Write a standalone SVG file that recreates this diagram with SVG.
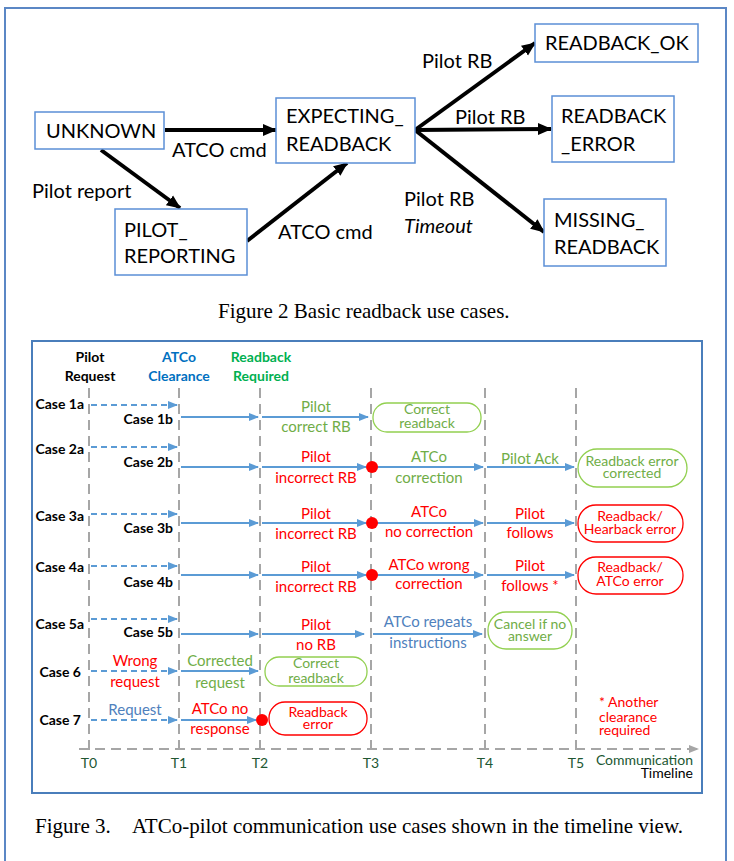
<svg xmlns="http://www.w3.org/2000/svg" width="734" height="861" viewBox="0 0 734 861">
<style>
.box{fill:#fff;stroke:#5b8fd6;stroke-width:1.5}
.bt{font-family:Lato,"Liberation Sans",sans-serif;font-size:20px;fill:#000}
.blk{stroke:#000;stroke-width:4;fill:none}
.cap{font-family:"Liberation Serif",serif;font-size:21px;fill:#000}
.t{font-family:Lato,"Liberation Sans",sans-serif;font-size:15px;text-anchor:middle}
.p{font-family:Lato,"Liberation Sans",sans-serif;font-size:14px;text-anchor:middle}
.b{font-family:Lato,"Liberation Sans",sans-serif;font-size:14px;font-weight:bold;fill:#000}
.r{fill:#ff0000}.g{fill:#70ad47}.bl{fill:#4f81bd}
.vl{stroke:#a6a6a6;stroke-width:2;stroke-dasharray:10 6;fill:none}
.sa{stroke:#5b9bd5;stroke-width:2;fill:none;marker-end:url(#ba)}
.da{stroke:#5b9bd5;stroke-width:2;fill:none;stroke-dasharray:6 4;marker-end:url(#ba)}
.pg{fill:#fff;stroke:#92d050;stroke-width:1.3}
.pr{fill:#fff;stroke:#ff0000;stroke-width:1.3}
.tl{font-family:Lato,"Liberation Sans",sans-serif;font-size:14px;fill:#215732;text-anchor:middle}
</style>
<defs>
<marker id="ka" markerUnits="userSpaceOnUse" markerWidth="14" markerHeight="14" refX="13" refY="7" orient="auto"><path d="M0,1 L14,7 L0,13 Z" fill="#000"/></marker>
<marker id="ba" markerUnits="userSpaceOnUse" markerWidth="10" markerHeight="10" refX="9" refY="5" orient="auto"><path d="M0,1 L10,5 L0,9 Z" fill="#5b9bd5"/></marker>
<marker id="ga" markerUnits="userSpaceOnUse" markerWidth="10" markerHeight="10" refX="9" refY="5" orient="auto"><path d="M0,1 L10,5 L0,9 Z" fill="#a6a6a6"/></marker>
</defs>
<rect x="5" y="8" width="721" height="860" fill="none" stroke="#5b87c5" stroke-width="2"/>

<!-- Figure 2 -->
<g id="connectors-fig2">
<line class="blk" x1="165" y1="130" x2="276" y2="130" marker-end="url(#ka)"/>
<line class="blk" x1="101" y1="150" x2="180" y2="208" marker-end="url(#ka)"/>
<line class="blk" x1="247" y1="241" x2="347" y2="163" marker-end="url(#ka)"/>
<line class="blk" x1="415" y1="130" x2="535" y2="43" marker-end="url(#ka)"/>
<line class="blk" x1="415" y1="130" x2="551" y2="129" marker-end="url(#ka)"/>
<line class="blk" x1="415" y1="130" x2="544" y2="232" marker-end="url(#ka)"/>
<text class="bt" x="172" y="157">ATCO cmd</text>
<text class="bt" x="32" y="198">Pilot report</text>
<text class="bt" x="278" y="239">ATCO cmd</text>
<text class="bt" x="422" y="68">Pilot RB</text>
<text class="bt" x="455" y="124">Pilot RB</text>
<text class="bt" x="404" y="206">Pilot RB</text>
<text class="bt" x="404" y="233" font-style="italic">Timeout</text>
</g>
<g id="unknown"><rect class="box" x="35" y="112" width="129" height="37"/><text class="bt" x="46" y="138">UNKNOWN</text></g>
<g id="expecting"><rect class="box" x="276" y="98" width="139" height="65"/><text class="bt" x="286" y="123">EXPECTING_</text><text class="bt" x="286" y="151">READBACK</text></g>
<g id="pilot-reporting"><rect class="box" x="115" y="209" width="132" height="66"/><text class="bt" x="124" y="237">PILOT_</text><text class="bt" x="124" y="263">REPORTING</text></g>
<g id="readback-ok"><rect class="box" x="535" y="24" width="163" height="38"/><text class="bt" x="545" y="50">READBACK_OK</text></g>
<g id="readback-error"><rect class="box" x="552" y="96" width="122" height="66"/><text class="bt" x="561" y="123">READBACK</text><text class="bt" x="561" y="151">_ERROR</text></g>
<g id="missing-readback"><rect class="box" x="544" y="199" width="122" height="67"/><text class="bt" x="554" y="227">MISSING_</text><text class="bt" x="554" y="254">READBACK</text></g>
<text class="cap" x="218" y="318">Figure 2 Basic readback use cases.</text>

<!-- Figure 3 -->
<rect x="32" y="341" width="670" height="452" fill="none" stroke="#4a7ebb" stroke-width="2"/>
<g id="timeline">
<line class="vl" x1="89" y1="388" x2="89" y2="755"/>
<line class="vl" x1="179" y1="388" x2="179" y2="755"/>
<line class="vl" x1="260" y1="388" x2="260" y2="755"/>
<line class="vl" x1="371" y1="388" x2="371" y2="755"/>
<line class="vl" x1="485" y1="388" x2="485" y2="755"/>
<line class="vl" x1="576" y1="388" x2="576" y2="755"/>
<line class="vl" x1="79" y1="749" x2="698" y2="749" marker-end="url(#ga)"/>
<text class="tl" x="89" y="768">T0</text>
<text class="tl" x="179" y="768">T1</text>
<text class="tl" x="260" y="768">T2</text>
<text class="tl" x="371" y="768">T3</text>
<text class="tl" x="485" y="768">T4</text>
<text class="tl" x="576" y="768">T5</text>
<text class="tl" x="693" y="765" text-anchor="end" style="text-anchor:end">Communication</text>
<text x="693" y="778" text-anchor="end" font-family="Lato,'Liberation Sans',sans-serif" font-size="14" fill="#000">Timeline</text>
</g>
<g id="headers">
<text class="b" x="90" y="362" text-anchor="middle">Pilot</text>
<text class="b" x="90" y="381" text-anchor="middle">Request</text>
<text class="b" x="179" y="362" text-anchor="middle" fill="#0070c0" style="fill:#0070c0">ATCo</text>
<text class="b" x="179" y="381" text-anchor="middle" style="fill:#0070c0">Clearance</text>
<text class="b" x="261" y="362" text-anchor="middle" style="fill:#00b050">Readback</text>
<text class="b" x="261" y="381" text-anchor="middle" style="fill:#00b050">Required</text>
</g>
<g id="connectors-fig3">
<!-- row 1 -->
<line class="da" x1="91" y1="405" x2="177" y2="405"/>
<line class="sa" x1="181" y1="417" x2="258" y2="417"/>
<line class="sa" x1="262" y1="417" x2="368" y2="417"/>
<!-- row 2 -->
<line class="da" x1="91" y1="447" x2="177" y2="447"/>
<line class="sa" x1="181" y1="467" x2="258" y2="467"/>
<line class="sa" x1="262" y1="467" x2="366" y2="467"/>
<line class="sa" x1="373" y1="467" x2="483" y2="467"/>
<line class="sa" x1="487" y1="467" x2="574" y2="467"/>
<!-- row 3 -->
<line class="da" x1="91" y1="514" x2="177" y2="514"/>
<line class="sa" x1="181" y1="523" x2="258" y2="523"/>
<line class="sa" x1="262" y1="523" x2="366" y2="523"/>
<line class="sa" x1="373" y1="523" x2="483" y2="523"/>
<line class="sa" x1="487" y1="523" x2="574" y2="523"/>
<!-- row 4 -->
<line class="da" x1="91" y1="566" x2="177" y2="566"/>
<line class="sa" x1="181" y1="575" x2="258" y2="575"/>
<line class="sa" x1="262" y1="575" x2="366" y2="575"/>
<line class="sa" x1="373" y1="575" x2="483" y2="575"/>
<line class="sa" x1="487" y1="575" x2="574" y2="575"/>
<!-- row 5 -->
<line class="da" x1="91" y1="619" x2="177" y2="619"/>
<line class="sa" x1="181" y1="634" x2="258" y2="634"/>
<line class="sa" x1="262" y1="634" x2="364" y2="634"/>
<line class="sa" x1="373" y1="634" x2="482" y2="634"/>
<!-- row 6 -->
<line class="da" x1="91" y1="671" x2="177" y2="671"/>
<line class="sa" x1="181" y1="671" x2="258" y2="671"/>
<!-- row 7 -->
<line class="da" x1="91" y1="720" x2="177" y2="720"/>
<line class="sa" x1="181" y1="720" x2="256" y2="720"/>
</g>
<g id="dots">
<circle cx="372" cy="467" r="6" fill="#ff0000"/>
<circle cx="372" cy="523" r="6" fill="#ff0000"/>
<circle cx="372" cy="575" r="6" fill="#ff0000"/>
<circle cx="262" cy="720" r="6" fill="#ff0000"/>
</g>
<g id="case-labels" text-anchor="end">
<text class="b" x="84" y="409">Case 1a</text>
<text class="b" x="173" y="424">Case 1b</text>
<text class="b" x="84" y="454">Case 2a</text>
<text class="b" x="173" y="467">Case 2b</text>
<text class="b" x="84" y="521">Case 3a</text>
<text class="b" x="173" y="533">Case 3b</text>
<text class="b" x="84" y="572">Case 4a</text>
<text class="b" x="173" y="587">Case 4b</text>
<text class="b" x="84" y="629">Case 5a</text>
<text class="b" x="173" y="637">Case 5b</text>
<text class="b" x="81" y="677">Case 6</text>
<text class="b" x="81" y="725">Case 7</text>
</g>
<g id="arrow-labels">
<text class="t g" x="316" y="412">Pilot</text><text class="t g" x="316" y="432">correct RB</text>
<text class="t r" x="316" y="462">Pilot</text><text class="t r" x="316" y="483">incorrect RB</text>
<text class="t g" x="429" y="462">ATCo</text><text class="t g" x="429" y="483">correction</text>
<text class="t g" x="530" y="464">Pilot Ack</text>
<text class="t r" x="316" y="519">Pilot</text><text class="t r" x="316" y="539">incorrect RB</text>
<text class="t r" x="429" y="517">ATCo</text><text class="t r" x="429" y="537">no correction</text>
<text class="t r" x="530" y="519">Pilot</text><text class="t r" x="530" y="538">follows</text>
<text class="t r" x="316" y="572">Pilot</text><text class="t r" x="316" y="592">incorrect RB</text>
<text class="t r" x="429" y="570">ATCo wrong</text><text class="t r" x="429" y="589">correction</text>
<text class="t r" x="530" y="571">Pilot</text><text class="t r" x="530" y="591">follows *</text>
<text class="t r" x="316" y="630">Pilot</text><text class="t r" x="316" y="650">no RB</text>
<text class="t bl" x="428" y="627">ATCo repeats</text><text class="t bl" x="428" y="648">instructions</text>
<text class="t r" x="135" y="666">Wrong</text><text class="t r" x="135" y="687">request</text>
<text class="t g" x="220" y="666">Corrected</text><text class="t g" x="220" y="688">request</text>
<text class="t bl" x="135" y="715">Request</text>
<text class="t r" x="220" y="714">ATCo no</text><text class="t r" x="220" y="734">response</text>
<text class="r" x="599" y="707" font-family="Lato,'Liberation Sans',sans-serif" font-size="14">* Another</text>
<text class="r" x="599" y="722" font-family="Lato,'Liberation Sans',sans-serif" font-size="14">clearance</text>
<text class="r" x="599" y="735" font-family="Lato,'Liberation Sans',sans-serif" font-size="14">required</text>
</g>
<g id="outcome-1"><rect class="pg" x="373" y="403" width="108" height="29" rx="14"/><text class="p g" x="427" y="414">Correct</text><text class="p g" x="427" y="428">readback</text></g>
<g id="outcome-2"><rect class="pg" x="578" y="449" width="109" height="38" rx="19"/><text class="p g" x="632" y="466">Readback error</text><text class="p g" x="632" y="478">corrected</text></g>
<g id="outcome-3"><rect class="pr" x="578" y="505" width="105" height="37" rx="18"/><text class="p r" x="630" y="521">Readback/</text><text class="p r" x="630" y="534">Hearback error</text></g>
<g id="outcome-4"><rect class="pr" x="578" y="557" width="105" height="37" rx="18"/><text class="p r" x="630" y="572">Readback/</text><text class="p r" x="630" y="586">ATCo error</text></g>
<g id="outcome-5"><rect class="pg" x="488" y="612" width="84" height="37" rx="18"/><text class="p g" x="530" y="629">Cancel if no</text><text class="p g" x="530" y="641">answer</text></g>
<g id="outcome-6"><rect class="pg" x="265" y="657" width="102" height="29" rx="14"/><text class="p g" x="316" y="668">Correct</text><text class="p g" x="316" y="683">readback</text></g>
<g id="outcome-7"><rect class="pr" x="269" y="702" width="98" height="33" rx="16"/><text class="p r" x="318" y="717">Readback</text><text class="p r" x="318" y="729">error</text></g>
<text class="cap" x="35" y="833">Figure 3.</text>
<text class="cap" x="132" y="833">ATCo-pilot communication use cases shown in the timeline view.</text>
</svg>
